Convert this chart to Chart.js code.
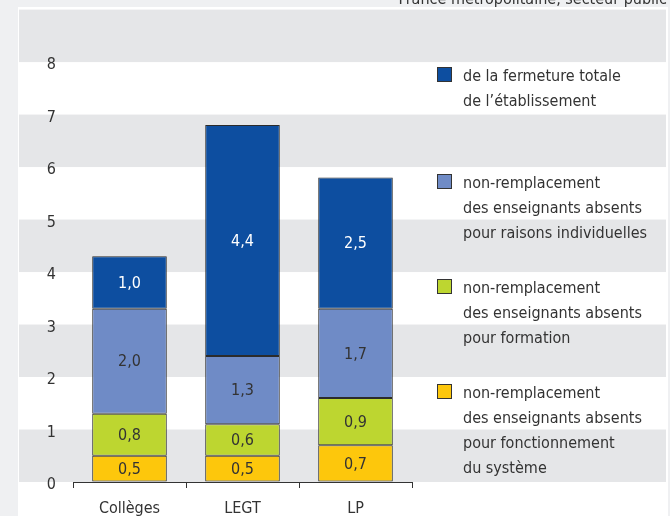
<!DOCTYPE html>
<html><head><meta charset="utf-8">
<script src="https://cdn.jsdelivr.net/npm/chart.js@4.4.0/dist/chart.umd.min.js"></script>
<style>html,body{margin:0;padding:0;background:#eff0f2;overflow:hidden}#wrap{width:670px;height:516px;position:relative}</style>
</head><body><div id="wrap"><canvas id="c" width="670" height="516"></canvas></div>
<script>
const categories = ['Collèges', 'LEGT', 'LP'];
const fonctionnement = [0.5, 0.5, 0.7];
const formation = [0.8, 0.6, 0.9];
const individuelles = [2.0, 1.3, 1.7];
const fermeture = [1.0, 4.4, 2.5];
const yTickLabels = [0, 1, 2, 3, 4, 5, 6, 7, 8];
const titleText = 'France métropolitaine, secteur public';
const legendFermeture = ['de la fermeture totale', 'de l’établissement'];
const legendIndividuelles = ['non-remplacement', 'des enseignants absents', 'pour raisons individuelles'];
const legendFormation = ['non-remplacement', 'des enseignants absents', 'pour formation'];
const legendFonctionnement = ['non-remplacement', 'des enseignants absents', 'pour fonctionnement', 'du système'];

const FONT = '"Liberation Sans Narrow", "DejaVu Sans Condensed", "Roboto Condensed", sans-serif';
const TXT = '#333333';
const COLORS = { fonctionnement: '#fdc70c', formation: '#bdd630', individuelles: '#6f8bc6', fermeture: '#0d4ea0' };

const bgPlugin = {
  id: 'bg',
  beforeDraw(chart) {
    const ctx = chart.ctx, y = chart.scales.y;
    ctx.save();
    ctx.fillStyle = '#eff0f2';
    ctx.fillRect(0, 0, 670, 516);
    ctx.fillStyle = '#ffffff';
    ctx.fillRect(18, 7, 650, 509);
    ctx.fillStyle = '#e5e6e8';
    for (let v = 0; v <= 8; v += 2) {
      const top = y.getPixelForValue(v + 1), bot = y.getPixelForValue(v);
      ctx.fillRect(19, top, 647, bot - top);
    }
    ctx.font = '16px ' + FONT;
    ctx.fillStyle = TXT;
    ctx.textAlign = 'right';
    ctx.textBaseline = 'alphabetic';
    ctx.fillText(titleText, 667, 4);
    ctx.restore();
  }
};

const labelPlugin = {
  id: 'barLabels',
  afterDatasetsDraw(chart) {
    const ctx = chart.ctx;
    ctx.save();
    ctx.font = '16px ' + FONT;
    ctx.textAlign = 'center';
    ctx.textBaseline = 'middle';
    chart.data.datasets.forEach((ds, i) => {
      const meta = chart.getDatasetMeta(i);
      meta.data.forEach((bar, j) => {
        const p = bar.getProps(['x', 'y', 'base'], true);
        ctx.fillStyle = ds.key === 'fermeture' ? '#ffffff' : TXT;
        ctx.fillText(ds.data[j].toFixed(1).replace('.', ','), p.x, (p.y + p.base) / 2 + 1);
      });
    });
    ctx.restore();
  }
};

const legendItems = [
  { color: COLORS.fermeture, lines: legendFermeture, top: 67 },
  { color: COLORS.individuelles, lines: legendIndividuelles, top: 174 },
  { color: COLORS.formation, lines: legendFormation, top: 279 },
  { color: COLORS.fonctionnement, lines: legendFonctionnement, top: 384 }
];
const legendPlugin = {
  id: 'customLegend',
  afterDraw(chart) {
    const ctx = chart.ctx;
    ctx.save();
    ctx.font = '16px ' + FONT;
    ctx.textAlign = 'left';
    ctx.textBaseline = 'middle';
    legendItems.forEach(it => {
      ctx.fillStyle = it.color;
      ctx.fillRect(437.5, it.top + 0.5, 14, 14);
      ctx.strokeStyle = '#333';
      ctx.lineWidth = 1;
      ctx.strokeRect(437.5, it.top + 0.5, 14, 14);
      ctx.fillStyle = TXT;
      it.lines.forEach((l, k) => ctx.fillText(l, 463, it.top + 10 + k * 25));
    });
    ctx.restore();
  }
};

function ds(label, key, data) {
  return { label, key, data, backgroundColor: COLORS[key], borderColor: '#2b2b2b', borderWidth: 1, borderSkipped: false,
           barPercentage: 0.66, categoryPercentage: 1.0 };
}

new Chart(document.getElementById('c'), {
  type: 'bar',
  data: {
    labels: categories,
    datasets: [
      ds('pour fonctionnement du système', 'fonctionnement', fonctionnement),
      ds('pour formation', 'formation', formation),
      ds('pour raisons individuelles', 'individuelles', individuelles),
      ds('de la fermeture totale de l’établissement', 'fermeture', fermeture)
    ]
  },
  options: {
    responsive: false,
    animation: false,
    devicePixelRatio: 1,
    layout: { padding: { top: 9, right: 258, bottom: 0, left: 0 } },
    plugins: { legend: { display: false }, tooltip: { enabled: false }, title: { display: false } },
    scales: {
      x: {
        stacked: true,
        grid: { display: true, offset: true, drawOnChartArea: false, drawTicks: true, tickLength: 6, color: '#333' },
        border: { display: true, color: '#333', width: 1 },
        ticks: { color: TXT, font: { family: FONT, size: 16 }, padding: 11 },
        afterFit(s) { s.height = 34; }
      },
      y: {
        stacked: true,
        min: 0, max: 9,
        grid: { display: true, drawOnChartArea: false, drawTicks: true, tickLength: 17, color: 'rgba(0,0,0,0)' },
        border: { display: false },
        ticks: { stepSize: 1, color: TXT, font: { family: FONT, size: 16 }, padding: 0, labelOffset: 3,
                 callback: v => yTickLabels.includes(v) ? String(v) : '' },
        afterFit(s) { s.width = 73; }
      }
    }
  },
  plugins: [bgPlugin, labelPlugin, legendPlugin]
});
</script></body></html>
